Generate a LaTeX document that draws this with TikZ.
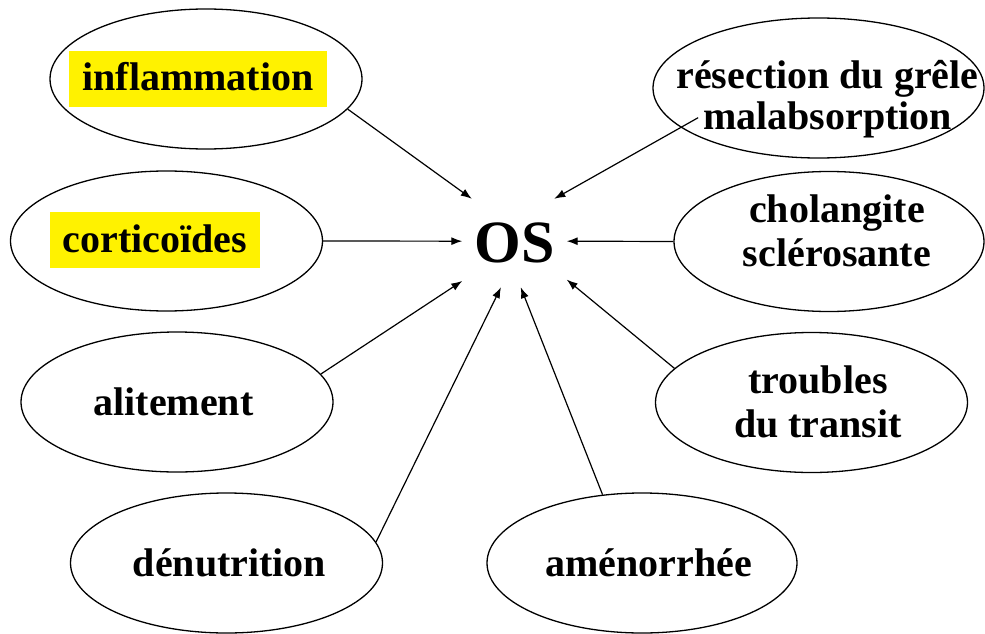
\documentclass[tikz,border=0pt]{standalone}
\usepackage{fontspec}
\setmainfont{Liberation Serif}
\usetikzlibrary{shapes.geometric,arrows.meta}

\tikzstyle{oval}=[ellipse,draw,line width=1.3pt,minimum width=312pt,minimum height=140pt,inner sep=0pt]
\tikzstyle{txt}=[font=\bfseries\fontsize{40}{44}\selectfont,align=center,inner sep=0pt]
\tikzstyle{hilite}=[txt,fill=yellow,inner xsep=13pt,inner ysep=12pt,text height=28pt,text depth=4pt]

\begin{document}
\begin{tikzpicture}[x=1pt,y=-1pt,>={Latex[length=11pt,width=8pt]}]
  \useasboundingbox (0,0) rectangle (985,634);
  \node (os) at (514.5,243) [font=\bfseries\fontsize{60}{60}\selectfont,minimum width=104pt,minimum height=88pt,inner sep=0pt] {OS};

  \node (infl) at (206,79) [oval] {};
  \node (cort) at (166.5,241) [oval] {};
  \node (alit) at (177,402) [oval] {};
  \node (denu) at (226.5,563) [oval] {};
  \node (amen) at (642,563) [oval,minimum width=310pt] {};
  \node (troub) at (811.5,402.5) [oval] {};
  \node (chol) at (829,241.5) [oval,minimum width=310pt] {};
  \node (resec) at (818.5,88) [oval,minimum width=331pt] {};

  \node (infl-t) at (198,91) [hilite,anchor=base] {inflammation};
  \node (cort-t) at (155,252) [hilite,anchor=base] {corticoïdes};
  \node (alit-t) at (173.5,415) [txt,anchor=base] {alitement};
  \node (denu-t) at (229.5,576) [txt,anchor=base] {dénutrition};
  \node (amen-t) at (648.5,576) [txt,anchor=base] {aménorrhée};
  \node (troub-t) at (818,401.5) [txt] {troubles\\du transit};
  \node (chol-t) at (837,231) [txt] {cholangite\\sclérosante};
  \node (resec-t) at (827.5,99) [txt] {résection du grêle\\[-3pt]malabsorption};

  \path[->,line width=1.2pt]
  (infl.-12.7) edge (os.134)
  (cort.0) edge (os.178)
  (alit.11.6) edge (os.216)
  (denu.8) edge (os.253.6)
  (amen.120.4) edge (os.278.5)
  (troub.166.9) edge (os.325.4)
  (chol.180) edge (os.2)
  (resec.196.3) edge[shorten <=-20pt] (os.48.8);
\end{tikzpicture}
\end{document}
